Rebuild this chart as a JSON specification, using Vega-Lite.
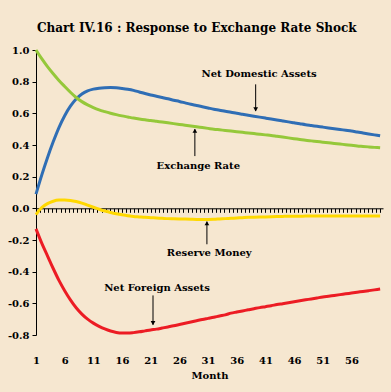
{
  "$schema": "https://vega.github.io/schema/vega-lite/v6.json",
  "width": 347,
  "height": 285,
  "autosize": {"type": "none"},
  "padding": {"left": 36, "top": 50, "right": 8, "bottom": 57},
  "background": "#F6E7D0",
  "title": {
    "text": "Chart IV.16 : Response to Exchange Rate Shock",
    "font": "DejaVu Serif",
    "fontSize": 12,
    "fontWeight": "bold",
    "color": "black",
    "anchor": "middle",
    "frame": "bounds",
    "offset": 9
  },
  "config": {
    "view": {"stroke": null},
    "axis": {"labelFont": "DejaVu Serif", "labelFontWeight": "bold", "labelFontSize": 10, "labelColor": "black", "titleFont": "DejaVu Serif", "titleFontWeight": "bold", "titleFontSize": 10, "titleColor": "black", "grid": false, "labelOverlap": false}
  },
  "datasets": {
    "series": [
      {"Month":1,"Net Domestic Assets":0.09,"Exchange Rate":1.00,"Reserve Money":-0.04,"Net Foreign Assets":-0.13},
      {"Month":2,"Net Domestic Assets":0.21,"Exchange Rate":0.945,"Reserve Money":0.005,"Net Foreign Assets":-0.22},
      {"Month":3,"Net Domestic Assets":0.32,"Exchange Rate":0.895,"Reserve Money":0.03,"Net Foreign Assets":-0.30},
      {"Month":4,"Net Domestic Assets":0.42,"Exchange Rate":0.85,"Reserve Money":0.045,"Net Foreign Assets":-0.38},
      {"Month":5,"Net Domestic Assets":0.51,"Exchange Rate":0.808,"Reserve Money":0.052,"Net Foreign Assets":-0.455},
      {"Month":6,"Net Domestic Assets":0.585,"Exchange Rate":0.77,"Reserve Money":0.053,"Net Foreign Assets":-0.52},
      {"Month":7,"Net Domestic Assets":0.645,"Exchange Rate":0.733,"Reserve Money":0.05,"Net Foreign Assets":-0.578},
      {"Month":8,"Net Domestic Assets":0.69,"Exchange Rate":0.70,"Reserve Money":0.043,"Net Foreign Assets":-0.628},
      {"Month":9,"Net Domestic Assets":0.722,"Exchange Rate":0.674,"Reserve Money":0.033,"Net Foreign Assets":-0.668},
      {"Month":10,"Net Domestic Assets":0.742,"Exchange Rate":0.653,"Reserve Money":0.02,"Net Foreign Assets":-0.70},
      {"Month":11,"Net Domestic Assets":0.753,"Exchange Rate":0.636,"Reserve Money":0.007,"Net Foreign Assets":-0.725},
      {"Month":12,"Net Domestic Assets":0.759,"Exchange Rate":0.622,"Reserve Money":-0.006,"Net Foreign Assets":-0.745},
      {"Month":13,"Net Domestic Assets":0.762,"Exchange Rate":0.611,"Reserve Money":-0.017,"Net Foreign Assets":-0.762},
      {"Month":14,"Net Domestic Assets":0.763,"Exchange Rate":0.601,"Reserve Money":-0.026,"Net Foreign Assets":-0.775},
      {"Month":15,"Net Domestic Assets":0.761,"Exchange Rate":0.592,"Reserve Money":-0.034,"Net Foreign Assets":-0.784},
      {"Month":16,"Net Domestic Assets":0.757,"Exchange Rate":0.584,"Reserve Money":-0.041,"Net Foreign Assets":-0.788},
      {"Month":17,"Net Domestic Assets":0.752,"Exchange Rate":0.577,"Reserve Money":-0.047,"Net Foreign Assets":-0.788},
      {"Month":18,"Net Domestic Assets":0.745,"Exchange Rate":0.57,"Reserve Money":-0.051,"Net Foreign Assets":-0.785},
      {"Month":19,"Net Domestic Assets":0.735,"Exchange Rate":0.564,"Reserve Money":-0.054,"Net Foreign Assets":-0.78},
      {"Month":20,"Net Domestic Assets":0.725,"Exchange Rate":0.559,"Reserve Money":-0.057,"Net Foreign Assets":-0.774},
      {"Month":21,"Net Domestic Assets":0.716,"Exchange Rate":0.555,"Reserve Money":-0.059,"Net Foreign Assets":-0.768},
      {"Month":22,"Net Domestic Assets":0.708,"Exchange Rate":0.55,"Reserve Money":-0.061,"Net Foreign Assets":-0.763},
      {"Month":23,"Net Domestic Assets":0.70,"Exchange Rate":0.545,"Reserve Money":-0.063,"Net Foreign Assets":-0.756},
      {"Month":24,"Net Domestic Assets":0.692,"Exchange Rate":0.54,"Reserve Money":-0.065,"Net Foreign Assets":-0.749},
      {"Month":25,"Net Domestic Assets":0.683,"Exchange Rate":0.535,"Reserve Money":-0.066,"Net Foreign Assets":-0.742},
      {"Month":26,"Net Domestic Assets":0.675,"Exchange Rate":0.53,"Reserve Money":-0.067,"Net Foreign Assets":-0.734},
      {"Month":27,"Net Domestic Assets":0.666,"Exchange Rate":0.525,"Reserve Money":-0.068,"Net Foreign Assets":-0.726},
      {"Month":28,"Net Domestic Assets":0.657,"Exchange Rate":0.52,"Reserve Money":-0.069,"Net Foreign Assets":-0.718},
      {"Month":29,"Net Domestic Assets":0.65,"Exchange Rate":0.515,"Reserve Money":-0.07,"Net Foreign Assets":-0.71},
      {"Month":30,"Net Domestic Assets":0.642,"Exchange Rate":0.51,"Reserve Money":-0.07,"Net Foreign Assets":-0.702},
      {"Month":31,"Net Domestic Assets":0.634,"Exchange Rate":0.505,"Reserve Money":-0.07,"Net Foreign Assets":-0.695},
      {"Month":32,"Net Domestic Assets":0.626,"Exchange Rate":0.50,"Reserve Money":-0.069,"Net Foreign Assets":-0.688},
      {"Month":33,"Net Domestic Assets":0.62,"Exchange Rate":0.496,"Reserve Money":-0.067,"Net Foreign Assets":-0.68},
      {"Month":34,"Net Domestic Assets":0.613,"Exchange Rate":0.492,"Reserve Money":-0.065,"Net Foreign Assets":-0.673},
      {"Month":35,"Net Domestic Assets":0.607,"Exchange Rate":0.488,"Reserve Money":-0.063,"Net Foreign Assets":-0.662},
      {"Month":36,"Net Domestic Assets":0.60,"Exchange Rate":0.484,"Reserve Money":-0.061,"Net Foreign Assets":-0.655},
      {"Month":37,"Net Domestic Assets":0.594,"Exchange Rate":0.48,"Reserve Money":-0.059,"Net Foreign Assets":-0.648},
      {"Month":38,"Net Domestic Assets":0.588,"Exchange Rate":0.476,"Reserve Money":-0.057,"Net Foreign Assets":-0.641},
      {"Month":39,"Net Domestic Assets":0.582,"Exchange Rate":0.472,"Reserve Money":-0.056,"Net Foreign Assets":-0.634},
      {"Month":40,"Net Domestic Assets":0.576,"Exchange Rate":0.468,"Reserve Money":-0.055,"Net Foreign Assets":-0.627},
      {"Month":41,"Net Domestic Assets":0.57,"Exchange Rate":0.464,"Reserve Money":-0.054,"Net Foreign Assets":-0.621},
      {"Month":42,"Net Domestic Assets":0.564,"Exchange Rate":0.46,"Reserve Money":-0.053,"Net Foreign Assets":-0.615},
      {"Month":43,"Net Domestic Assets":0.558,"Exchange Rate":0.455,"Reserve Money":-0.052,"Net Foreign Assets":-0.608},
      {"Month":44,"Net Domestic Assets":0.552,"Exchange Rate":0.45,"Reserve Money":-0.051,"Net Foreign Assets":-0.602},
      {"Month":45,"Net Domestic Assets":0.546,"Exchange Rate":0.445,"Reserve Money":-0.05,"Net Foreign Assets":-0.596},
      {"Month":46,"Net Domestic Assets":0.54,"Exchange Rate":0.44,"Reserve Money":-0.05,"Net Foreign Assets":-0.59},
      {"Month":47,"Net Domestic Assets":0.534,"Exchange Rate":0.435,"Reserve Money":-0.05,"Net Foreign Assets":-0.584},
      {"Month":48,"Net Domestic Assets":0.528,"Exchange Rate":0.43,"Reserve Money":-0.049,"Net Foreign Assets":-0.578},
      {"Month":49,"Net Domestic Assets":0.523,"Exchange Rate":0.426,"Reserve Money":-0.049,"Net Foreign Assets":-0.572},
      {"Month":50,"Net Domestic Assets":0.518,"Exchange Rate":0.422,"Reserve Money":-0.049,"Net Foreign Assets":-0.566},
      {"Month":51,"Net Domestic Assets":0.513,"Exchange Rate":0.418,"Reserve Money":-0.049,"Net Foreign Assets":-0.56},
      {"Month":52,"Net Domestic Assets":0.508,"Exchange Rate":0.414,"Reserve Money":-0.049,"Net Foreign Assets":-0.555},
      {"Month":53,"Net Domestic Assets":0.503,"Exchange Rate":0.41,"Reserve Money":-0.049,"Net Foreign Assets":-0.55},
      {"Month":54,"Net Domestic Assets":0.498,"Exchange Rate":0.406,"Reserve Money":-0.049,"Net Foreign Assets":-0.545},
      {"Month":55,"Net Domestic Assets":0.493,"Exchange Rate":0.402,"Reserve Money":-0.049,"Net Foreign Assets":-0.54},
      {"Month":56,"Net Domestic Assets":0.488,"Exchange Rate":0.398,"Reserve Money":-0.049,"Net Foreign Assets":-0.535},
      {"Month":57,"Net Domestic Assets":0.482,"Exchange Rate":0.394,"Reserve Money":-0.049,"Net Foreign Assets":-0.53},
      {"Month":58,"Net Domestic Assets":0.476,"Exchange Rate":0.391,"Reserve Money":-0.049,"Net Foreign Assets":-0.525},
      {"Month":59,"Net Domestic Assets":0.47,"Exchange Rate":0.388,"Reserve Money":-0.049,"Net Foreign Assets":-0.52},
      {"Month":60,"Net Domestic Assets":0.464,"Exchange Rate":0.385,"Reserve Money":-0.049,"Net Foreign Assets":-0.515},
      {"Month":61,"Net Domestic Assets":0.458,"Exchange Rate":0.382,"Reserve Money":-0.049,"Net Foreign Assets":-0.51}
    ],
    "labels": [
      {"t": "Net Domestic Assets", "Month": 39.9, "value": 0.846},
      {"t": "Exchange Rate", "Month": 29.3, "value": 0.267},
      {"t": "Reserve Money", "Month": 31.2, "value": -0.284},
      {"t": "Net Foreign Assets", "Month": 22.1, "value": -0.5}
    ],
    "arrows": [
      {"Month": 39.3, "value": 0.783, "tip": 0.615},
      {"Month": 28.7, "value": 0.33, "tip": 0.50},
      {"Month": 30.8, "value": -0.227, "tip": -0.084},
      {"Month": 21.4, "value": -0.55, "tip": -0.735}
    ],
    "heads": [
      {"Month": 39.3, "value": 0.625, "shape": "triangle-down"},
      {"Month": 28.7, "value": 0.49, "shape": "triangle-up"},
      {"Month": 30.8, "value": -0.094, "shape": "triangle-up"},
      {"Month": 21.4, "value": -0.725, "shape": "triangle-down"}
    ]
  },
  "encoding": {
    "x": {"field": "Month", "type": "quantitative", "scale": {"domain": [1, 61.5], "nice": false, "zero": false},
      "axis": {"orient": "bottom", "offset": -126.7, "domain": true, "domainColor": "black", "domainWidth": 1, "ticks": true, "tickSize": 4, "tickColor": "black", "tickWidth": 1,
        "labelPadding": 143, "labelOverlap": false, "labelFlush": false, "labelBound": false,
        "labelExpr": "abs((datum.value - 1) / 5 - round((datum.value - 1) / 5)) < 0.01 && datum.value < 60 ? round(datum.value) : ''",
        "title": "Month", "titlePadding": 5,
        "values": [1,1.714,2.429,3.143,3.857,4.571,5.286,6,6.714,7.429,8.143,8.857,9.571,10.286,11,11.714,12.429,13.143,13.857,14.571,15.286,16,16.714,17.429,18.143,18.857,19.571,20.286,21,21.714,22.429,23.143,23.857,24.571,25.286,26,26.714,27.429,28.143,28.857,29.571,30.286,31,31.714,32.429,33.143,33.857,34.571,35.286,36,36.714,37.429,38.143,38.857,39.571,40.286,41,41.714,42.429,43.143,43.857,44.571,45.286,46,46.714,47.429,48.143,48.857,49.571,50.286,51,51.714,52.429,53.143,53.857,54.571,55.286,56,56.714,57.429,58.143,58.857,59.571,60.286,61]}},
    "y": {"field": "value", "type": "quantitative", "scale": {"domain": [-0.8, 1.0], "nice": false, "zero": false},
      "axis": {"values": [-0.8,-0.6,-0.4,-0.2,0,0.2,0.4,0.6,0.8,1.0], "title": null, "domainColor": "black", "tickColor": "black", "tickSize": 4, "labelPadding": 3, "labelOverlap": false, "labelBound": false,
        "labelExpr": "datum.value < 0 ? '-' + format(-datum.value, '.1f') : format(datum.value, '.1f')"}}
  },
  "layer": [
    {
      "data": {"name": "series"},
      "transform": [{"fold": ["Net Domestic Assets", "Exchange Rate", "Reserve Money", "Net Foreign Assets"], "as": ["series", "value"]}],
      "mark": {"type": "line", "strokeWidth": 3, "interpolate": "monotone"},
      "encoding": {
        "color": {"field": "series", "type": "nominal", "legend": null,
          "scale": {"domain": ["Net Domestic Assets", "Exchange Rate", "Reserve Money", "Net Foreign Assets"], "range": ["#2F6EB5", "#95C83A", "#FFD800", "#EC1C24"]}}
      }
    },
    {
      "data": {"name": "arrows"},
      "mark": {"type": "rule", "color": "black", "strokeWidth": 1},
      "encoding": {
        "y2": {"field": "tip"}
      }
    },
    {
      "data": {"name": "heads"},
      "mark": {"type": "point", "filled": true, "color": "black", "size": 22, "opacity": 1},
      "encoding": {
        "shape": {"field": "shape", "type": "nominal", "scale": null}
      }
    },
    {
      "data": {"name": "labels"},
      "mark": {"type": "text", "font": "DejaVu Serif", "fontWeight": "bold", "fontSize": 10, "color": "black", "baseline": "middle", "align": "center"},
      "encoding": {
        "text": {"field": "t"}
      }
    }
  ]
}
